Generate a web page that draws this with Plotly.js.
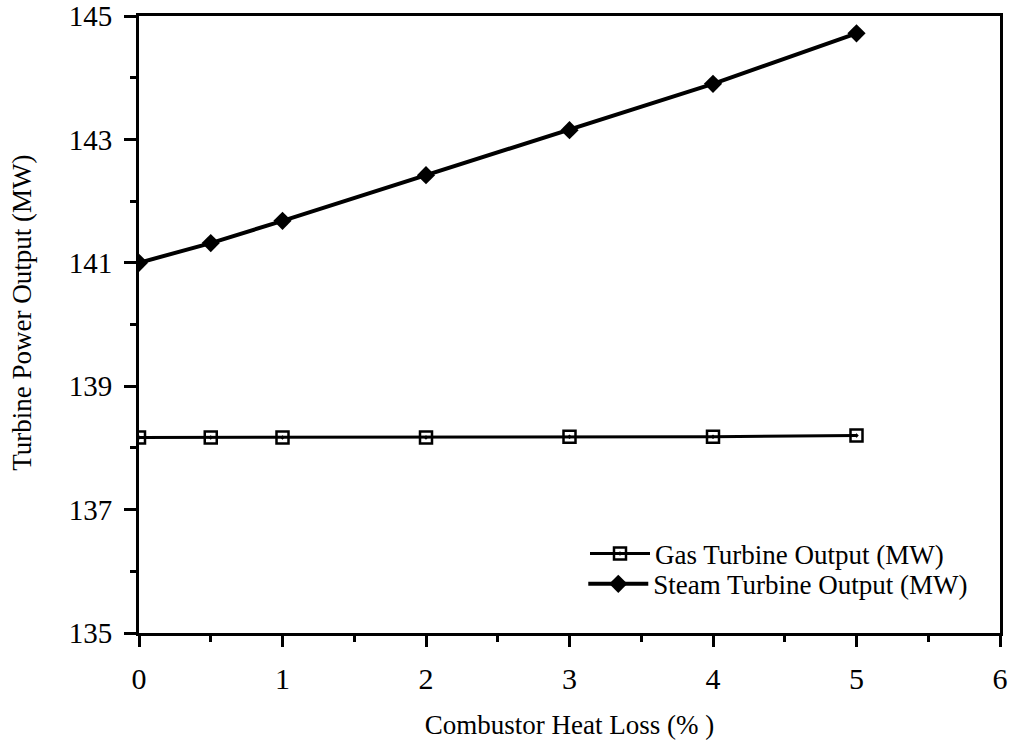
<!DOCTYPE html>
<html>
<head>
<meta charset="utf-8">
<script src="https://cdn.plot.ly/plotly-3.0.1.min.js"></script>
<style>html,body{margin:0;padding:0;background:#fff;}#chart{width:1010px;height:747px;}</style>
</head>
<body>
<div id="chart"></div>
<script>
const heatLoss = [0, 0.5, 1, 2, 3, 4, 5];
const gasOutput = [138.17, 138.17, 138.17, 138.17, 138.18, 138.18, 138.2];
const steamOutput = [141.0, 141.32, 141.68, 142.42, 143.15, 143.9, 144.72];
const xTickVals = [0, 1, 2, 3, 4, 5, 6];
const yTickVals = [135, 137, 139, 141, 143, 145];
const seriesNames = ['Gas Turbine Output (MW)', 'Steam Turbine Output (MW)'];
const xTitle = 'Combustor Heat Loss (% )';
const yTitle = 'Turbine Power Output (MW)';

const font = '"Liberation Serif", "Times New Roman", serif';

const traces = [
  {
    x: heatLoss, y: gasOutput, name: seriesNames[0], type: 'scatter', mode: 'lines+markers',
    legend: 'legend',
    line: {color: '#000', width: 3},
    marker: {symbol: 'square-open-dot', size: 12, color: '#000', line: {width: 2.5, color: '#000'}}
  },
  {
    x: heatLoss, y: steamOutput, name: seriesNames[1], type: 'scatter', mode: 'lines+markers',
    legend: 'legend2',
    line: {color: '#000', width: 4},
    marker: {symbol: 'diamond', size: 14, color: '#000'}
  }
];

const legendCommon = {
  xanchor: 'left', yanchor: 'middle',
  font: {family: font, size: 27, color: '#000'},
  bgcolor: 'rgba(0,0,0,0)', itemwidth: 60
};

const layout = {
  width: 1010, height: 747,
  margin: {l: 139, r: 10, t: 16, b: 114},
  paper_bgcolor: '#fff', plot_bgcolor: '#fff',
  showlegend: true,
  legend: Object.assign({x: 0.518, y: 0.128}, legendCommon),
  legend2: Object.assign({x: 0.516, y: 0.079}, legendCommon),
  xaxis: {
    range: [0, 6], tickvals: xTickVals, ticktext: xTickVals.map(String),
    ticks: 'outside', ticklen: 11, tickwidth: 3, tickcolor: '#000',
    ticklabelstandoff: 6,
    minor: {dtick: 0.5, ticks: 'outside', ticklen: 6, tickwidth: 3, tickcolor: '#000', showgrid: false},
    showline: true, linecolor: '#000', linewidth: 3, mirror: true,
    showgrid: false, zeroline: false,
    tickfont: {family: font, size: 30, color: '#000'},
    title: {text: xTitle, font: {family: font, size: 27, color: '#000'}, standoff: 22}
  },
  yaxis: {
    range: [135, 145], tickvals: yTickVals, ticktext: yTickVals.map(String),
    ticks: 'outside', ticklen: 12, tickwidth: 3, tickcolor: '#000',
    ticklabelstandoff: 6, ticklabeloverflow: 'allow',
    minor: {dtick: 1, ticks: 'outside', ticklen: 6, tickwidth: 3, tickcolor: '#000', showgrid: false},
    showline: true, linecolor: '#000', linewidth: 3, mirror: true,
    showgrid: false, zeroline: false,
    tickfont: {family: font, size: 29, color: '#000'},
    title: {text: ''}
  },
  annotations: [{
    text: yTitle, xref: 'paper', yref: 'paper', x: -0.136, y: 0.519,
    xanchor: 'center', yanchor: 'middle', textangle: -90, showarrow: false,
    font: {family: font, size: 27, color: '#000'}
  }]
};

Plotly.newPlot('chart', traces, layout, {displayModeBar: false, staticPlot: true});
</script>
</body>
</html>
